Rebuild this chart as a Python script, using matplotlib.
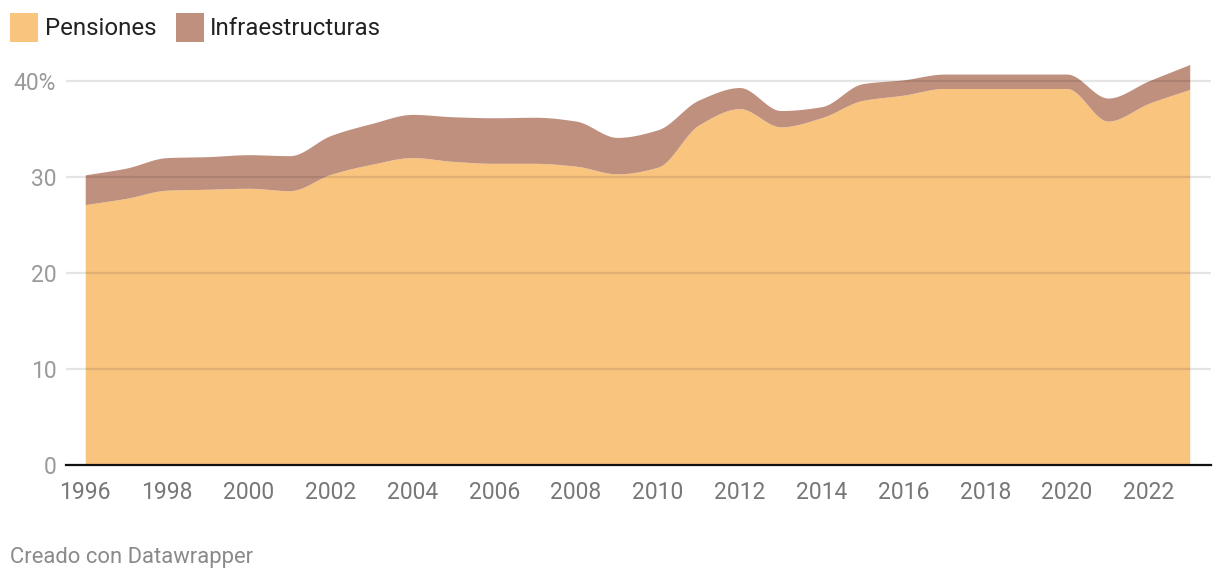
import numpy as np
import matplotlib.pyplot as plt
from matplotlib.patches import Rectangle

plt.rcParams['font.family'] = ['Roboto', 'DejaVu Sans']

# Datos (% del total)
years = np.arange(1996, 2024)
pensiones = [27.1, 27.75, 28.6, 28.7, 28.8, 28.55, 30.25, 31.3, 32.0, 31.6,
             31.4, 31.4, 31.1, 30.3, 31.0, 35.4, 37.1, 35.2, 36.15, 37.95,
             38.5, 39.2, 39.2, 39.2, 39.2, 35.8, 37.65, 39.1]
infraestructuras = [3.1, 3.15, 3.4, 3.4, 3.5, 3.65, 4.05, 4.25, 4.5, 4.65,
                    4.75, 4.8, 4.7, 3.8, 3.9, 2.6, 2.2, 1.7, 1.15, 1.75,
                    1.6, 1.5, 1.5, 1.5, 1.5, 2.4, 2.35, 2.6]
labels = ['Pensiones', 'Infraestructuras']
colors = ['#f9c47e', '#c0907e']
yticks = [0, 10, 20, 30, 40]
ytick_labels = ['0', '10', '20', '30', '40%']
xticks = np.arange(1996, 2023, 2)


def monotone(x, y, n=20):
    # curva monótona (tipo d3.curveMonotoneX), solo para el trazado
    x = np.asarray(x, float)
    y = np.asarray(y, float)
    h = np.diff(x)
    d = np.diff(y) / h
    m = np.zeros_like(y)
    m[0], m[-1] = d[0], d[-1]
    for i in range(1, len(y) - 1):
        if d[i - 1] * d[i] > 0:
            m[i] = 2 / (1 / d[i - 1] + 1 / d[i])
    xs, ys = [], []
    t = np.linspace(0, 1, n, endpoint=False)
    h00 = 2 * t**3 - 3 * t**2 + 1
    h10 = t**3 - 2 * t**2 + t
    h01 = -2 * t**3 + 3 * t**2
    h11 = t**3 - t**2
    for i in range(len(x) - 1):
        xs.append(x[i] + t * h[i])
        ys.append(h00 * y[i] + h10 * h[i] * m[i] + h01 * y[i + 1] + h11 * h[i] * m[i + 1])
    xs.append([x[-1]])
    ys.append([y[-1]])
    return np.concatenate(xs), np.concatenate(ys)


fig = plt.figure(figsize=(12.2, 5.82), dpi=100)
ax = fig.add_axes([66 / 1220, 117.3 / 582, 1145 / 1220, 412.7 / 582])

total = np.array(pensiones) + np.array(infraestructuras)
xs, p_s = monotone(years, pensiones)
_, t_s = monotone(years, total)
ax.fill_between(xs, 0, p_s, color=colors[0], lw=0, zorder=2)
ax.fill_between(xs, p_s, t_s, color=colors[1], lw=0, zorder=2)

for yv in yticks[1:]:
    ax.axhline(yv, color='black', alpha=0.1, lw=1.6, zorder=3)

ax.set_xlim(1995.53, 2023.52)
ax.set_ylim(0, 43)
ax.set_yticks(yticks)
ax.set_yticklabels(ytick_labels)
ax.set_xticks(xticks)
ax.set_xticklabels([str(v) for v in xticks])
ax.tick_params(axis='y', length=0, pad=7, labelsize=16.5, labelcolor='#9a9a9a')
ax.tick_params(axis='x', length=0, pad=12, labelsize=16.5, labelcolor='#777777')
for s in ['top', 'right', 'left']:
    ax.spines[s].set_visible(False)
ax.spines['bottom'].set_color('#111111')
ax.spines['bottom'].set_linewidth(1.6)
ax.spines['bottom'].set_zorder(4)

# leyenda
fig.patches.append(Rectangle((10 / 1220, 1 - 41.5 / 582), 28 / 1220, 28 / 582,
                             transform=fig.transFigure, color=colors[0], lw=0))
fig.text(45 / 1220, 1 - 28.5 / 582, labels[0], fontsize=17.3, color='#222222',
         va='center', ha='left')
fig.patches.append(Rectangle((176 / 1220, 1 - 41.5 / 582), 28 / 1220, 28 / 582,
                             transform=fig.transFigure, color=colors[1], lw=0))
fig.text(210 / 1220, 1 - 28.5 / 582, labels[1], fontsize=17.3, color='#222222',
         va='center', ha='left')

fig.text(10 / 1220, 1 - 557 / 582, 'Creado con Datawrapper', fontsize=15.8,
         color='#8a8a8a', va='center', ha='left')

fig.savefig('out.png', dpi=100)
